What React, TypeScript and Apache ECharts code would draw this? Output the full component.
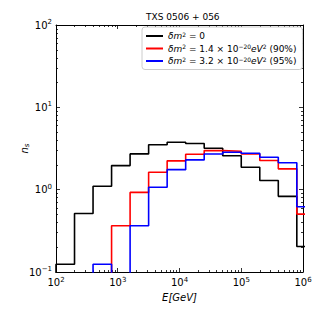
import React, { useEffect, useRef } from "react";
import * as echarts from "echarts";

// Histogram bin edges (GeV), log-spaced by 0.3 decades
const binEdges = [100, 199.5, 398.1, 794.3, 1584.9, 3162.3, 6309.6, 12589, 25119, 50119, 100000, 199526, 398107, 794328, 1584893];
// Counts per bin (0 = empty bin, falls below axis)
const nsNoLIV = [0.124, 0.514, 1.10, 1.96, 2.72, 3.51, 3.77, 3.63, 3.19, 2.58, 1.87, 1.29, 0.83, 0.204];
const ns90 = [0, 0, 0, 0.364, 0.927, 1.63, 2.24, 2.69, 2.98, 2.93, 2.71, 2.26, 1.79, 0.505];
const ns95 = [0, 0, 0.124, 0, 0.364, 1.07, 1.75, 2.30, 2.71, 2.85, 2.77, 2.48, 2.12, 0.62];

const seriesNames = [
  "δm² = 0",
  "δm² = 1.4 × 10⁻²⁰eV² (90%)",
  "δm² = 3.2 × 10⁻²⁰eV² (95%)",
];
const legendRich = [
  "{i|δm}{s|2}{n| = 0}",
  "{i|δm}{s|2}{n| = 1.4 × 10}{s|−20}{i|eV}{s|2}{n| (90%)}",
  "{i|δm}{s|2}{n| = 3.2 × 10}{s|−20}{i|eV}{s|2}{n| (95%)}",
];
const seriesColors = ["#000000", "#ff0000", "#0000ff"];

const xMajor = [100, 1000, 10000, 100000, 1000000];
const yMajor = [0.1, 1, 10, 100];

const FLOOR = 0.001;

function stepPoints(vals: number[]): number[][] {
  const pts: number[][] = [];
  pts.push([binEdges[0], FLOOR]);
  for (let i = 0; i < vals.length; i++) {
    const v = vals[i] > 0 ? vals[i] : FLOOR;
    pts.push([binEdges[i], v]);
    pts.push([binEdges[i + 1], v]);
  }
  pts.push([binEdges[vals.length], FLOOR]);
  return pts;
}

function minorTicks(lo: number, hi: number): number[] {
  const out: number[] = [];
  for (let k = lo; k < hi; k++) {
    for (let m = 2; m <= 9; m++) out.push(m * Math.pow(10, k));
  }
  return out;
}

function powLabel(v: number): string {
  const e = Math.round(Math.log10(v));
  return "{b|10}{s|" + (e < 0 ? "−" + Math.abs(e) : String(e)) + "}";
}

const FONT = "DejaVu Sans";

export default function App() {
  const ref = useRef<HTMLDivElement>(null);
  useEffect(() => {
    if (!ref.current) return;
    const chart = echarts.init(ref.current, undefined, { renderer: "svg" });
    const axisBase = (type: "x" | "y", position: string, ticks: number[], len: number, labels: boolean, isMain: boolean) => {
      const isX = type === "x";
      return {
        type: "log",
        logBase: 10,
        min: isX ? 100 : 0.1,
        max: isX ? 1000000 : 100,
        position,
        axisLine: { show: isMain, lineStyle: { color: "#000", width: 1 } },
        axisTick: {
          show: true,
          inside: true,
          length: len,
          customValues: ticks,
          lineStyle: { color: "#000", width: 0.8 },
        },
        axisLabel: labels
          ? {
              show: true,
              customValues: ticks,
              formatter: (v: number) => powLabel(v),
              color: "#000",
              fontFamily: FONT,
              fontSize: 10,
              margin: 4,
              rich: {
                b: { fontFamily: FONT, fontSize: 10, color: "#000" },
                s: { fontFamily: FONT, fontSize: 7, color: "#000", padding: [0, 0, 6, 0] },
              },
            }
          : { show: false },
        splitLine: { show: false },
        minorTick: { show: false },
      };
    };

    const xMinor = minorTicks(2, 6);
    const yMinor = minorTicks(-1, 2);

    const xAxes = [
      {
        ...axisBase("x", "bottom", xMajor, 4, true, true),
        name: "E[GeV]",
        nameLocation: "middle",
        nameGap: 17,
        nameTextStyle: { fontFamily: FONT, fontSize: 10, fontStyle: "italic", color: "#000" },
      },
      axisBase("x", "bottom", xMinor, 2, false, false),
      axisBase("x", "top", xMajor, 4, false, true),
      axisBase("x", "top", xMinor, 2, false, false),
    ];
    const yAxes = [
      {
        ...axisBase("y", "left", yMajor, 4, true, true),
        name: "{n|n}{s|s}",
        nameLocation: "middle",
        nameGap: 26,
        nameMoveOverlap: false,
        nameTextStyle: {
          fontFamily: FONT,
          color: "#000",
          rich: {
            n: { fontFamily: FONT, fontSize: 10, fontStyle: "italic", color: "#000" },
            s: { fontFamily: FONT, fontSize: 7, fontStyle: "italic", color: "#000", padding: [4, 0, 0, 0] },
          },
        },
      },
      axisBase("y", "left", yMinor, 2, false, false),
      axisBase("y", "right", yMajor, 4, false, true),
      axisBase("y", "right", yMinor, 2, false, false),
    ];

    const data = [nsNoLIV, ns90, ns95];
    chart.setOption({
      animation: false,
      backgroundColor: "#fff",
      title: {
        text: "TXS 0506 + 056",
        left: 141,
        top: 7,
        textStyle: { fontFamily: FONT, fontSize: 9, fontWeight: "normal", color: "#000" },
      },
      grid: { left: 56, top: 25, width: 247, height: 247, containLabel: false },
      xAxis: xAxes,
      yAxis: yAxes,
      legend: {
        orient: "vertical",
        left: 142,
        top: 27,
        padding: [4, 6, 4, 4],
        itemGap: 3,
        itemWidth: 17,
        itemHeight: 2,
        icon: "rect",
        backgroundColor: "#fff",
        borderColor: "#cccccc",
        borderWidth: 1,
        borderRadius: 3,
        formatter: (name: string) => legendRich[seriesNames.indexOf(name)],
        textStyle: {
          fontFamily: FONT,
          fontSize: 9,
          color: "#000",
          rich: {
            i: { fontFamily: FONT, fontSize: 9, fontStyle: "italic", color: "#000" },
            n: { fontFamily: FONT, fontSize: 9, color: "#000" },
            s: { fontFamily: FONT, fontSize: 6, color: "#000", padding: [0, 0, 4, 0] },
          },
        },
        data: seriesNames,
      },
      series: data.map((vals, i) => ({
        name: seriesNames[i],
        type: "line",
        xAxisIndex: 0,
        yAxisIndex: 0,
        data: stepPoints(vals),
        showSymbol: false,
        symbol: "none",
        clip: true,
        lineStyle: { color: seriesColors[i], width: 1.6 },
        itemStyle: { color: seriesColors[i] },
        z: 2 + i,
      })),
    });
    return () => chart.dispose();
  }, []);
  return <div ref={ref} style={{ width: 317, height: 317, position: "absolute", left: 0, top: 0 }} />;
}
